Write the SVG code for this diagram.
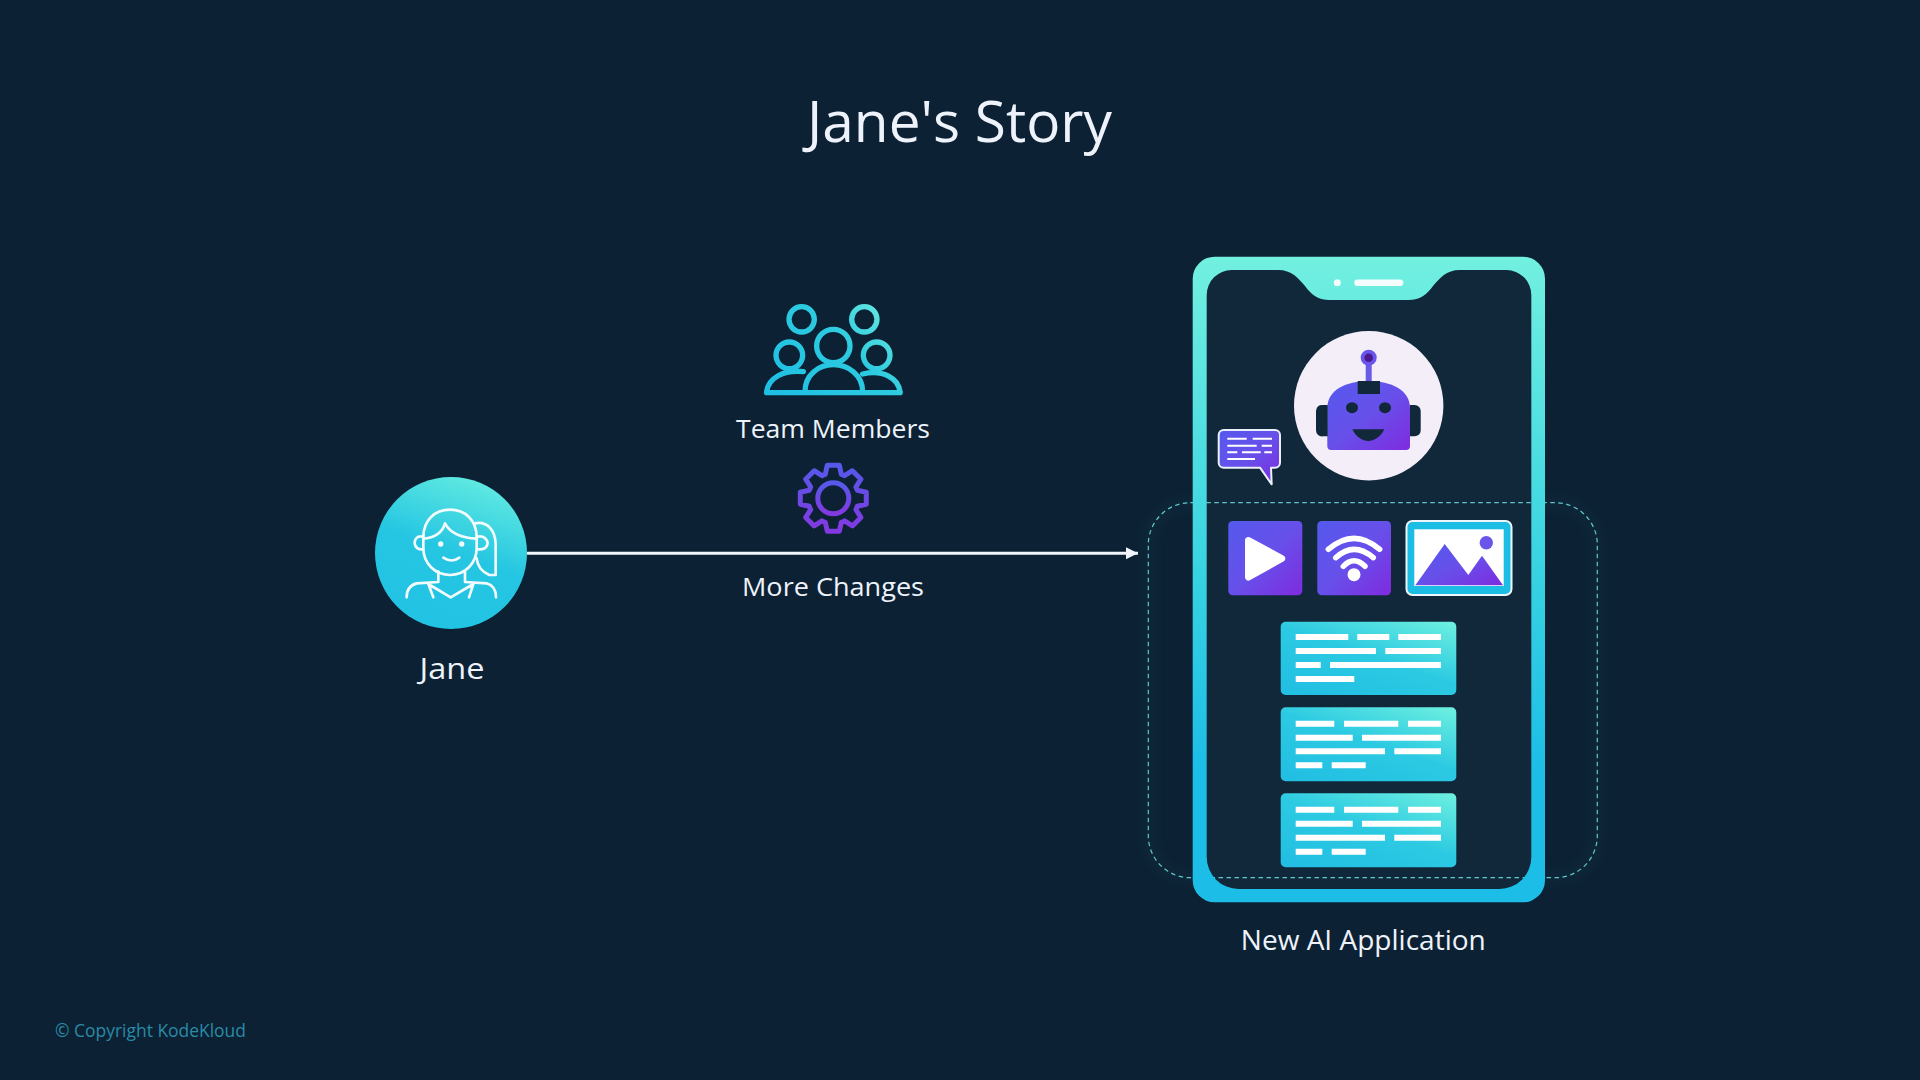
<svg xmlns="http://www.w3.org/2000/svg" width="1920" height="1080" viewBox="0 0 1920 1080">
<style>
.t{font-family:"Open Sans","Noto Sans","Liberation Sans",sans-serif;font-weight:500;fill:#eef3fb;text-anchor:middle}
.wl{stroke:#fff;stroke-width:6;fill:none}
.card{fill:url(#cardG)}
.ico{fill:url(#purG)}
</style>
<defs>
<linearGradient id="frameG" x1="0" y1="0" x2="0" y2="1"><stop offset="0" stop-color="#72f0e0"/><stop offset=".5" stop-color="#36d2e2"/><stop offset=".8" stop-color="#1cbde7"/><stop offset="1" stop-color="#1cbde7"/></linearGradient>
<linearGradient id="janeG" x1=".7" y1="0" x2=".35" y2="1"><stop offset="0" stop-color="#62ebe1"/><stop offset=".5" stop-color="#25c6e2"/><stop offset="1" stop-color="#22c2e4"/></linearGradient>
<linearGradient id="cardG" x1=".15" y1="1" x2=".95" y2="0"><stop offset="0" stop-color="#22bfe3"/><stop offset=".5" stop-color="#2ccae2"/><stop offset="1" stop-color="#6cefe0"/></linearGradient>
<linearGradient id="purG" x1="0" y1="0" x2="1" y2="1"><stop offset="0" stop-color="#5559ee"/><stop offset=".5" stop-color="#6750ea"/><stop offset="1" stop-color="#7f2bdf"/></linearGradient>
<linearGradient id="gearG" x1="0" y1="0" x2="0" y2="1"><stop offset="0" stop-color="#5659ea"/><stop offset="1" stop-color="#8338e0"/></linearGradient>
<linearGradient id="teamG" gradientUnits="userSpaceOnUse" x1="200" y1="320" x2="480" y2="40"><stop offset="0" stop-color="#1fbfe3"/><stop offset=".6" stop-color="#2dcbe0"/><stop offset="1" stop-color="#64e8e0"/></linearGradient>
<marker id="ah" markerUnits="userSpaceOnUse" markerWidth="13" markerHeight="13" refX="12" refY="6.5" orient="auto"><path d="M0,.5L12,6.5L0,12.5Z" fill="#f2f6fc"/></marker>
<filter id="blur" x="-10%" y="-10%" width="120%" height="120%"><feGaussianBlur stdDeviation="8"/></filter>
</defs>
<rect width="1920" height="1080" fill="#0c2133"/>
<g id="title"><text class="t" x="959.5" y="142" font-size="56" textLength="305" lengthAdjust="spacingAndGlyphs">Jane's Story</text></g>

<g id="connectors">
<line x1="527" y1="553.3" x2="1138" y2="553.3" stroke="#f0f5fb" stroke-width="3" marker-end="url(#ah)"/>
</g>

<g id="jane">
<circle cx="451" cy="553" r="76" fill="url(#janeG)"/>
<g transform="translate(360 460) scale(.33333)" fill="none" stroke="#f2fbfd" stroke-width="8" stroke-linecap="round" stroke-linejoin="round">
<path d="M190,232C190,180 225,149 270,149C315,149 350,180 350,232V265C350,310 315,345 270,345C225,345 190,310 190,265Z"/>
<path d="M192,236C225,232 248,215 255,190C270,218 305,234 350,236"/>
<path d="M190,230C170,225 163,240 164,250C165,262 175,270 190,268"/>
<path d="M352,230C372,225 383,240 383,250C382,262 372,270 352,268"/>
<path d="M345,190C385,182 405,215 407,250V345H388C365,335 352,315 350,295"/>
<path d="M235,335V366L170,370C150,375 140,390 140,412"/>
<path d="M315,335V366L380,370C398,375 408,390 408,412"/>
<path d="M205,372L272,412L340,372M205,372L220,412M340,372L327,412"/>
<path d="M250,293Q275,310 298,293"/>
</g>
<circle cx="440.7" cy="544" r="2.7" fill="#f2fbfd"/><circle cx="461.7" cy="544" r="2.7" fill="#f2fbfd"/>
<text class="t" x="452" y="679" font-size="30" textLength="65" lengthAdjust="spacingAndGlyphs">Jane</text>
</g>

<g id="team-members">
<g transform="translate(720 290) scale(.33333)" fill="none" stroke="url(#teamG)" stroke-width="16" stroke-linecap="round" stroke-linejoin="round">
<circle cx="245" cy="88" r="38"/>
<circle cx="433" cy="88" r="38"/>
<circle cx="340" cy="168" r="50"/>
<circle cx="208" cy="196" r="40"/>
<circle cx="470" cy="196" r="40"/>
<path d="M140,308H540"/>
<path d="M255,305C255,255 295,224 340,224C385,224 428,255 428,305"/>
<path d="M140,305C145,265 190,238 250,245"/>
<path d="M540,305C535,265 490,238 428,252"/>
</g>
<text class="t" x="833" y="438" font-size="26" textLength="194" lengthAdjust="spacingAndGlyphs">Team Members</text>
</g>

<g id="more-changes">
<g transform="translate(833.3 498.3)" fill="none" stroke="url(#gearG)" stroke-width="5" stroke-linejoin="round">
<path d="M-8,-24L-6,-33L6,-33L8,-24A25,25 0 0 1 11.3,-22.6L19.1,-27.6L27.6,-19.1L22.6,-11.3A25,25 0 0 1 24,-8L33,-6L33,6L24,8A25,25 0 0 1 22.6,11.3L27.6,19.1L19.1,27.6L11.3,22.6A25,25 0 0 1 8,24L6,33L-6,33L-8,24A25,25 0 0 1 -11.3,22.6L-19.1,27.6L-27.6,19.1L-22.6,11.3A25,25 0 0 1 -24,8L-33,6L-33,-6L-24,-8A25,25 0 0 1 -22.6,-11.3L-27.6,-19.1L-19.1,-27.6L-11.3,-22.6A25,25 0 0 1 -8,-24Z"/>
<circle r="15.5"/>
</g>
<text class="t" x="833" y="596" font-size="26" textLength="182" lengthAdjust="spacingAndGlyphs">More Changes</text>
</g>

<g id="new-ai-application">
<rect x="1148.3" y="502.7" width="449" height="375" rx="42" fill="none" stroke="#2fb4bd" stroke-width="5" opacity=".12" filter="url(#blur)"/>
<path id="screen" d="M1206.7,295A25,25 0 0 1 1231.7,270H1278C1292,270 1298,278 1305,286C1311,294 1317,300 1330,300H1408C1421,300 1427,294 1433,286C1440,278 1446,270 1460,270H1506.3A25,25 0 0 1 1531.3,295V857A32,32 0 0 1 1499.3,889H1238.7A32,32 0 0 1 1206.7,857Z" fill="#10283a"/>
<rect x="1148.3" y="502.7" width="449" height="375" rx="42" fill="none" stroke="#5fc9cc" stroke-width="1.2" stroke-dasharray="4.5 3.5"/>
<path fill="url(#frameG)" fill-rule="evenodd" d="M1214.7,256.7H1523A22,22 0 0 1 1545,278.7V880.3A22,22 0 0 1 1523,902.3H1214.7A22,22 0 0 1 1192.7,880.3V278.7A22,22 0 0 1 1214.7,256.7ZM1206.7,295V857A32,32 0 0 0 1238.7,889H1499.3A32,32 0 0 0 1531.3,857V295A25,25 0 0 0 1506.3,270H1460C1446,270 1440,278 1433,286C1427,294 1421,300 1408,300H1330C1317,300 1311,294 1305,286C1298,278 1292,270 1278,270H1231.7A25,25 0 0 0 1206.7,295Z"/>
<circle cx="1337.3" cy="282.7" r="3.5" fill="#f4fdfc"/>
<rect x="1354.3" y="279.5" width="49" height="6.4" rx="3.2" fill="#f4fdfc"/>

<g id="robot">
<circle cx="1368.7" cy="405.7" r="74.7" fill="#f3eef8"/>
<rect x="1365.7" y="360" width="6" height="24" fill="#6a5ae8"/>
<circle cx="1368.7" cy="357.7" r="8" fill="#6a55ea"/>
<circle cx="1368.7" cy="357.7" r="4.3" fill="#4a1a8c"/>
<path class="ico" d="M1327.3,408C1327.3,390 1346,381 1368.7,381C1391,381 1410,390 1410,408V446A4,4 0 0 1 1406,450H1331.3A4,4 0 0 1 1327.3,446Z"/>
<rect x="1357.7" y="381" width="22.3" height="13" fill="#10283a"/>
<ellipse cx="1352" cy="407.7" rx="6" ry="5.5" fill="#10283a"/>
<ellipse cx="1385" cy="407.7" rx="6" ry="5.5" fill="#10283a"/>
<path d="M1352.3,429.3H1384.3C1381,436 1375,441 1368.3,441C1361.5,441 1355.5,436 1352.3,429.3Z" fill="#10283a"/>
<path d="M1327.7,405V436.3H1323A6,6 0 0 1 1316,430.3V411A6,6 0 0 1 1323,405Z" fill="#10283a"/>
<path d="M1410,405V436.3H1414.7A6,6 0 0 0 1420.7,430.3V411A6,6 0 0 0 1414.7,405Z" fill="#10283a"/>
</g>

<g id="speech-bubble">
<path class="ico" stroke="#e9f0fb" stroke-width="2" stroke-linejoin="round" d="M1223.7,430H1275A5,5 0 0 1 1280,435V462.7A5,5 0 0 1 1275,467.7H1271L1271.7,484.3L1260,467.7H1223.7A5,5 0 0 1 1218.7,462.7V435A5,5 0 0 1 1223.7,430Z"/>
<path stroke="#fff" stroke-width="2" fill="none" d="M1227.3,438.7H1246.7M1252.7,438.7H1272M1227.3,445.7H1256.7M1261.7,445.7H1272M1227.3,452.3H1237.3M1242,452.3H1260.7M1264.3,452.3H1272M1227.3,459H1255"/>
</g>

<g id="play-tile">
<rect class="ico" x="1228.3" y="521" width="74" height="74.3" rx="4.5"/>
<path d="M1248.5,540.5L1281.7,558.5L1248.5,577Z" fill="#fff" stroke="#fff" stroke-width="7" stroke-linejoin="round"/>
</g>
<g id="wifi-tile">
<rect class="ico" x="1317.3" y="521" width="73.7" height="74.3" rx="4.5"/>
<path d="M1328.3,549.3Q1354,527.3 1379.7,549.3M1335.7,557.7Q1354,541 1373.3,557.7M1343.3,566.3Q1354,555.3 1365,566.3" fill="none" stroke="#fff" stroke-width="5.5" stroke-linecap="round"/>
<circle cx="1354" cy="574.7" r="6.5" fill="#fff"/>
</g>
<g id="image-tile">
<rect x="1406.5" y="521" width="105" height="74" rx="6" fill="#1cbde5" stroke="#eef6fc" stroke-width="2"/>
<rect x="1414.3" y="529.3" width="89.4" height="56.7" fill="#fff"/>
<path class="ico" d="M1415.3,585.3L1444.7,544L1468.3,575L1482,555.7L1503,585.3Z"/>
<circle cx="1486.3" cy="542.7" r="6.7" fill="#6a55ea"/>
</g>

<g id="card-1">
<rect class="card" x="1280.7" y="621.7" width="175.6" height="73.3" rx="5"/>
<path class="wl" d="M1295.7,637H1348.3M1357.3,637H1389.3M1398.3,637H1441M1295.7,651H1376M1385.3,651H1441M1295.7,665H1320.7M1330,665H1441M1295.7,679H1354.3"/>
</g>
<g id="card-2">
<rect class="card" x="1280.7" y="707.3" width="175.6" height="74" rx="5"/>
<path class="wl" d="M1295.7,723.7H1334.3M1344,723.7H1398.3M1408,723.7H1441M1295.7,737.7H1352.7M1362,737.7H1441M1295.7,751.3H1385M1394.3,751.3H1441M1295.7,765.3H1322.3M1331.7,765.3H1365.7"/>
</g>
<g id="card-3">
<rect class="card" x="1280.7" y="793.3" width="175.6" height="74" rx="5"/>
<path class="wl" d="M1295.7,809.7H1334.3M1344,809.7H1398.3M1408,809.7H1441M1295.7,823.7H1352.7M1362,823.7H1441M1295.7,837.7H1385M1394.3,837.7H1441M1295.7,851.7H1322.3M1331.7,851.7H1365.7"/>
</g>
<text class="t" x="1363.3" y="950" font-size="28" textLength="245" lengthAdjust="spacingAndGlyphs">New AI Application</text>
</g>

<g id="copyright"><text x="55" y="1037" font-family="'Open Sans','Noto Sans',sans-serif" font-weight="500" font-size="17.5" fill="#2a8aa6" textLength="191" lengthAdjust="spacingAndGlyphs">© Copyright KodeKloud</text></g>
</svg>
